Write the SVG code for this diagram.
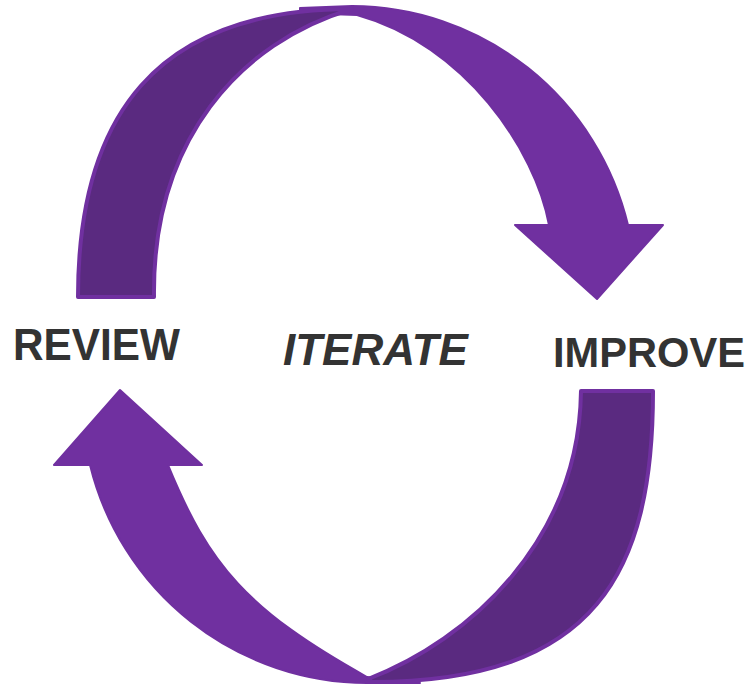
<svg xmlns="http://www.w3.org/2000/svg" width="753" height="687" viewBox="0 0 753 687">
  <style>
    .bright { fill: #7030A0; stroke: #7030A0; stroke-width: 2; stroke-linejoin: round; }
    .dark { fill: #5A2A80; stroke: #7030A0; stroke-width: 4; stroke-linejoin: round; }
    .lbl { font-family: "Liberation Sans", Arial, sans-serif; font-weight: bold; font-size: 44px; fill: #333333; }
  </style>
  <rect width="753" height="687" fill="#ffffff"/>
  <g id="connectors">
    <g id="arrow-top">
      <path class="bright" d="M 300 8 L 352 6 A 285 286 0 0 1 628 225 L 663 225 L 597 299 L 515 225 L 549 225 C 535 150 465 45 357 15 L 300 13 Z"/>
      <path class="dark" d="M 78 297 C 78 117 155 9 352 9 C 240 42 152 140 154 297 Z"/>
    </g>
    <g id="arrow-bottom">
      <path class="bright" d="M 168 465 L 202 465 L 120 390 L 54 465 L 90 465 A 286 286 0 0 0 367 683 L 420 683 L 367 677 C 247 610 209 565 168 465 Z"/>
      <path class="dark" d="M 581 391 L 653 391 C 653 571 597 682 372 682 L 368 679 C 470 640 579 540 581 391 Z"/>
    </g>
  </g>
  <g id="node-review">
    <text class="lbl" x="13" y="360" textLength="167" lengthAdjust="spacingAndGlyphs">REVIEW</text>
  </g>
  <g id="node-iterate">
    <text class="lbl" x="283" y="365" font-style="italic">ITERATE</text>
  </g>
  <g id="node-improve">
    <text class="lbl" x="553" y="367" font-size="42" style="font-size:42px" textLength="192" lengthAdjust="spacingAndGlyphs">IMPROVE</text>
  </g>
</svg>
